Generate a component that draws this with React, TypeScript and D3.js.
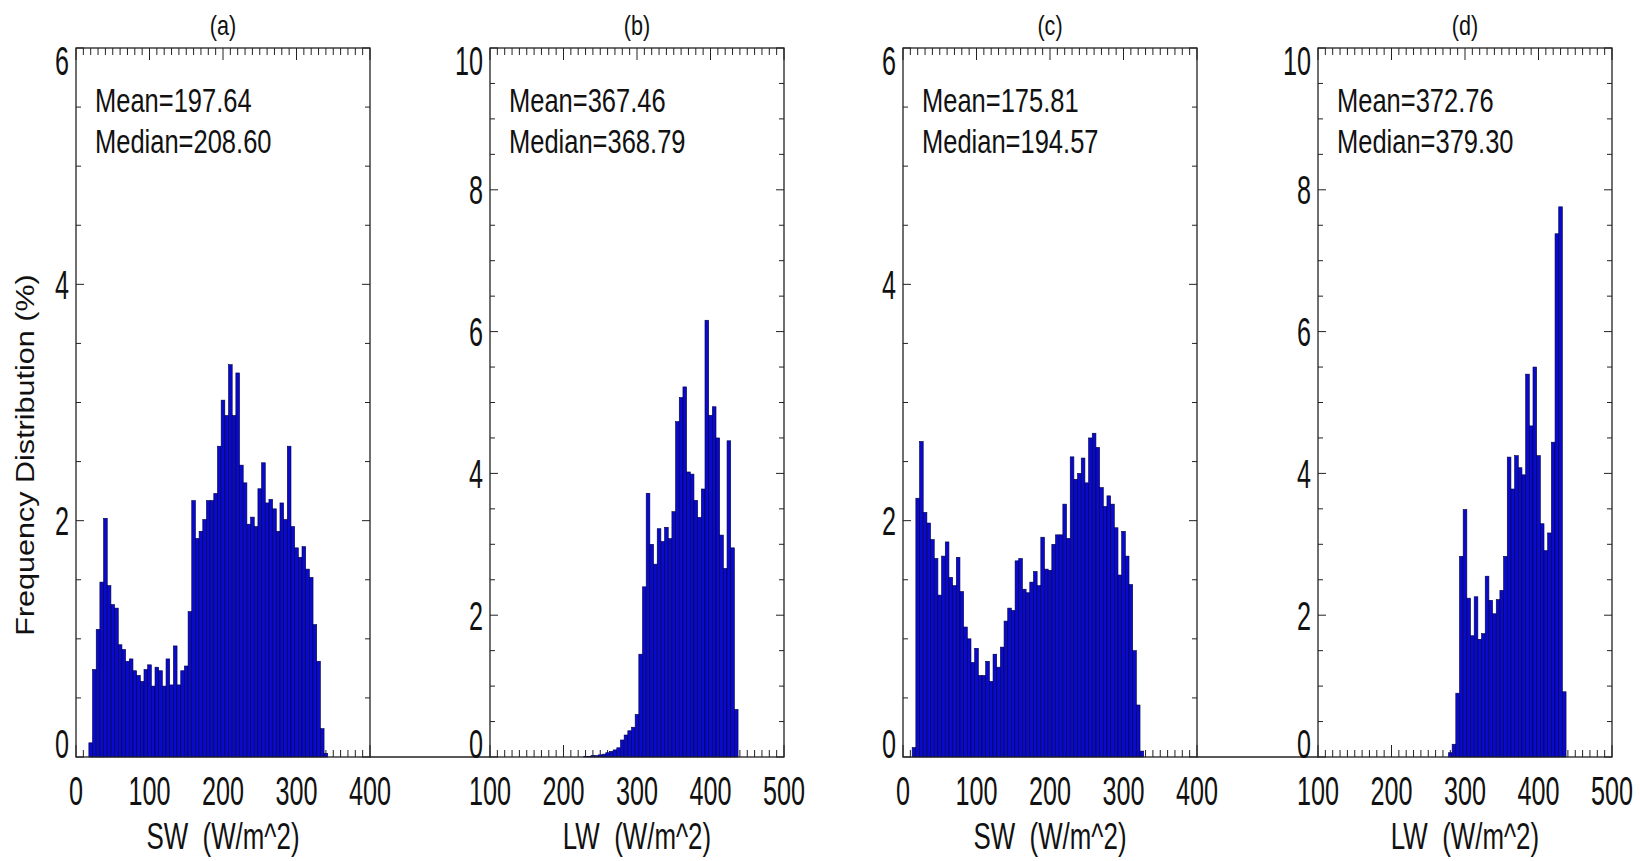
import * as d3 from "d3";

// panel texts
const titles = ["(a)", "(b)", "(c)", "(d)"];
const meanText = ["Mean=197.64", "Mean=367.46", "Mean=175.81", "Mean=372.76"];
const medianText = ["Median=208.60", "Median=368.79", "Median=194.57", "Median=379.30"];
const xTitles = ["SW\u00a0 (W/m^2)", "LW\u00a0 (W/m^2)", "SW\u00a0 (W/m^2)", "LW\u00a0 (W/m^2)"];

// axis ticks
const swTicks = [0, 100, 200, 300, 400];
const lwTicks = [100, 200, 300, 400, 500];
const swYTicks = [0, 2, 4, 6];
const lwYTicks = [0, 2, 4, 6, 8, 10];
const binWidth = 5;

// histogram bins (frequency %), first bin starts at *Start, each 5 W/m^2 wide
const swAStart = 17.5;
const swAFreq = [
  0.12, 0.74, 1.08, 1.48, 2.02, 1.45, 1.29, 1.26, 0.95, 0.91, 0.81, 0.83, 0.73, 0.69, 0.64, 0.74,
  0.78, 0.6, 0.76, 0.73, 0.6, 0.83, 0.61, 0.94, 0.61, 0.73, 0.77, 1.23, 2.17, 1.85, 1.91, 2.01,
  2.17, 2.17, 2.23, 2.63, 3.02, 2.89, 3.32, 2.89, 3.25, 2.47, 2.32, 1.97, 2.03, 1.95, 2.27, 2.49,
  2.15, 2.18, 2.1, 1.91, 2.15, 2.01, 2.63, 1.95, 1.77, 1.69, 1.78, 1.59, 1.52, 1.12, 0.81, 0.24, 0.03,
];

const lwBStart = 227.5;
const lwBFreq = [
  0.01, 0.01, 0.02, 0.02, 0.03, 0.04, 0.06, 0.08, 0.1, 0.13,
  0.24, 0.31, 0.37, 0.42, 0.6, 1.45, 2.4, 3.72, 3.0, 2.72, 3.22, 3.04, 3.24, 3.08, 3.46, 4.73,
  5.07, 5.22, 4.02, 3.99, 3.62, 3.38, 3.78, 6.16, 4.82, 4.94, 4.5, 3.13, 2.66, 4.46, 2.95, 0.67,
];

const swCStart = 12.5;
const swCFreq = [
  0.08, 2.19, 2.67, 2.07, 1.98, 1.84, 1.68, 1.37, 1.7, 1.82, 1.52, 1.45, 1.69, 1.4, 1.1, 1.0,
  0.8, 0.92, 0.69, 0.69, 0.81, 0.64, 0.87, 0.76, 0.93, 1.15, 1.26, 1.24, 1.66, 1.68, 1.42, 1.39,
  1.48, 1.57, 1.45, 1.86, 1.59, 1.58, 1.8, 1.88, 1.88, 2.14, 1.85, 2.54, 2.35, 2.4, 2.53, 2.32,
  2.7, 2.74, 2.62, 2.28, 2.12, 2.21, 2.14, 1.94, 1.54, 1.91, 1.7, 1.46, 0.9, 0.44, 0.05,
];

const lwDStart = 277.5;
const lwDFreq = [
  0.06, 0.18, 0.9, 2.83, 3.49, 2.24, 1.71, 2.26, 1.66, 1.74, 2.55, 2.21, 2.02, 2.22, 2.35, 2.83,
  4.23, 3.78, 4.25, 4.08, 3.98, 5.4, 4.67, 5.5, 4.25, 3.29, 2.91, 3.16, 4.44, 7.38, 7.76, 0.92,
];

const W = 1640;
const H = 861;
const PW = 294;
const TOP = 48;
const BOTTOM = 757;
const FONT = "Liberation Sans, Arial, Helvetica, sans-serif";

const panels = [
  { left: 76, xDomain: [0, 400], yMax: 6, xTicks: swTicks, yTicks: swYTicks, start: swAStart, freq: swAFreq },
  { left: 490, xDomain: [100, 500], yMax: 10, xTicks: lwTicks, yTicks: lwYTicks, start: lwBStart, freq: lwBFreq },
  { left: 903, xDomain: [0, 400], yMax: 6, xTicks: swTicks, yTicks: swYTicks, start: swCStart, freq: swCFreq },
  { left: 1318, xDomain: [100, 500], yMax: 10, xTicks: lwTicks, yTicks: lwYTicks, start: lwDStart, freq: lwDFreq },
];

function SText({ x, y, size, sx, anchor = "start", children }: any) {
  return (
    <text
      transform={`translate(${x},${y}) scale(${sx},1)`}
      fontSize={size}
      textAnchor={anchor}
      fontFamily={FONT}
      fill="#111"
      style={{ whiteSpace: "pre" }}
    >
      {children}
    </text>
  );
}

function Panel({ p, i }: any) {
  const x = d3.scaleLinear().domain(p.xDomain).range([p.left, p.left + PW]);
  const y = d3.scaleLinear().domain([0, p.yMax]).range([BOTTOM, TOP]);
  const xMinor = d3.range(p.xDomain[0], p.xDomain[1] + 0.01, 10);
  const yMinor = d3.range(0, p.yMax + 0.01, 0.5);
  const right = p.left + PW;
  const cx = p.left + PW / 2;

  return (
    <g>
      {/* x ticks top and bottom */}
      {xMinor.map((v: number) => {
        const len = p.xTicks.includes(v) ? 12 : 7;
        return (
          <g key={"xt" + v} stroke="#222" strokeWidth={1}>
            <line x1={x(v)} x2={x(v)} y1={BOTTOM} y2={BOTTOM - len} />
            <line x1={x(v)} x2={x(v)} y1={TOP} y2={TOP + len} />
          </g>
        );
      })}
      {/* y ticks left and right */}
      {yMinor.map((v: number) => {
        const len = p.yTicks.includes(v) ? 8 : 5;
        return (
          <g key={"yt" + v} stroke="#222" strokeWidth={1}>
            <line x1={p.left} x2={p.left + len} y1={y(v)} y2={y(v)} />
            <line x1={right} x2={right - len} y1={y(v)} y2={y(v)} />
          </g>
        );
      })}
      {/* bars */}
      {p.freq.map((f: number, k: number) => {
        const x0 = x(p.start + k * binWidth);
        const x1 = x(p.start + (k + 1) * binWidth);
        return (
          <rect
            key={"b" + k}
            x={x0}
            y={y(f)}
            width={x1 - x0}
            height={y(0) - y(f)}
            fill="#0a0acc"
            stroke="#000040"
            strokeWidth={0.6}
          />
        );
      })}
      {/* frame */}
      <rect x={p.left} y={TOP} width={PW} height={BOTTOM - TOP} fill="none" stroke="#222" strokeWidth={1.3} />

      {/* tick labels */}
      {p.xTicks.map((v: number) => (
        <SText key={"xl" + v} x={x(v)} y={805} size={40} sx={0.63} anchor="middle">
          {v}
        </SText>
      ))}
      {p.yTicks.map((v: number) => {
        const shift = v === p.yMax ? 27 : v === 0 ? 1 : 14.5;
        return (
          <SText key={"yl" + v} x={p.left - 7} y={y(v) + shift} size={40} sx={0.63} anchor="end">
            {v}
          </SText>
        );
      })}

      <SText x={cx} y={35} size={27} sx={0.8} anchor="middle">
        {titles[i]}
      </SText>
      <SText x={p.left + 19} y={112} size={34} sx={0.75}>
        {meanText[i]}
      </SText>
      <SText x={p.left + 19} y={153} size={34} sx={0.75}>
        {medianText[i]}
      </SText>
      <SText x={cx} y={849} size={37} sx={0.7} anchor="middle">
        {xTitles[i]}
      </SText>
    </g>
  );
}

export default function App() {
  return (
    <svg
      width={W}
      height={H}
      style={{ position: "absolute", left: 0, top: 0, background: "#fff" }}
    >
      <rect width={W} height={H} fill="#fff" />
      {/* baseline joining the paired panels */}
      <line x1={76 + PW} x2={490} y1={BOTTOM} y2={BOTTOM} stroke="#222" strokeWidth={1.3} />
      <line x1={903 + PW} x2={1318} y1={BOTTOM} y2={BOTTOM} stroke="#222" strokeWidth={1.3} />
      {panels.map((p, i) => (
        <Panel key={i} p={p} i={i} />
      ))}
      <text
        transform={`translate(34,455) rotate(-90) scale(1.175,1)`}
        fontSize={26}
        textAnchor="middle"
        fontFamily={FONT}
        fill="#111"
      >
        Frequency Distribution (%)
      </text>
    </svg>
  );
}
